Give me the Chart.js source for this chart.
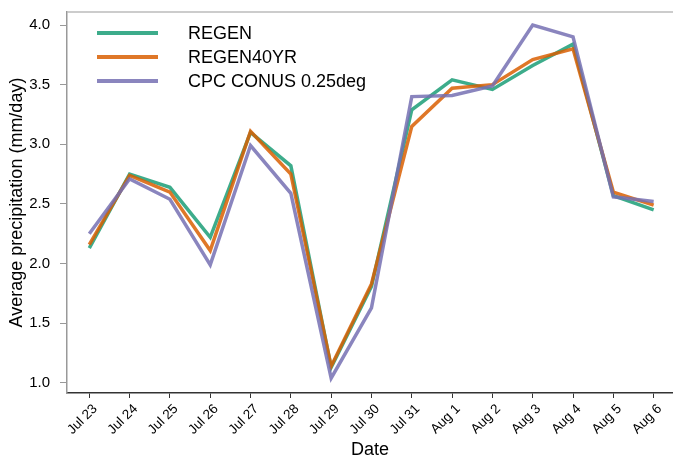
<!DOCTYPE html>
<html lang="en">
<head>
    <meta charset="UTF-8">
    <title>Average precipitation</title>
    <script src="https://cdn.jsdelivr.net/npm/chart.js"></script>
    <style>
        body { margin: 0; background: #fff; }
    </style>
</head>
<body>
    <div style="width: 673px; height: 457px;">
        <canvas id="grafico" width="673" height="457"></canvas>
    </div>

    <script>
        // dates on the x axis (index 0..14)
        const datas = ["Jul 23","Jul 24","Jul 25","Jul 26","Jul 27","Jul 28","Jul 29","Jul 30","Jul 31","Aug 1","Aug 2","Aug 3","Aug 4","Aug 5","Aug 6"]

        const regen     = [2.13, 2.75, 2.64, 2.22, 3.10, 2.82, 1.13, 1.81, 3.29, 3.54, 3.46, 3.66, 3.84, 2.57, 2.45]
        const regen40yr = [2.16, 2.74, 2.60, 2.11, 3.11, 2.75, 1.14, 1.83, 3.15, 3.47, 3.50, 3.71, 3.80, 2.60, 2.49]
        const cpc       = [2.25, 2.71, 2.54, 1.99, 2.99, 2.59, 1.04, 1.63, 3.40, 3.41, 3.49, 4.00, 3.90, 2.56, 2.52]

        const yTicks = [1.0, 1.5, 2.0, 2.5, 3.0, 3.5, 4.0]

        const pontos = arr => arr.map((v, i) => ({x: i, y: v}))

        const serie = (label, dados, cor, ordem) => ({
            label: label,
            data: pontos(dados),
            borderColor: cor,
            backgroundColor: cor,
            borderWidth: 3.5,
            pointRadius: 0,
            tension: 0,
            fill: false,
            borderJoinStyle: 'miter',
            order: ordem
        })

        const fonte = '"Liberation Sans", Arial, sans-serif'

        // legend drawn inside the plot, top left
        const legendaInterna = {
            id: 'legendaInterna',
            afterDraw(chart) {
                const c = chart.ctx
                c.save()
                c.font = '18px ' + fonte
                c.textBaseline = 'middle'
                c.fillStyle = '#000'
                chart.data.datasets.forEach((ds, i) => {
                    const y = 33 + i * 24
                    c.strokeStyle = ds.borderColor
                    c.lineWidth = 4
                    c.beginPath()
                    c.moveTo(97, y)
                    c.lineTo(158, y)
                    c.stroke()
                    c.fillText(ds.label, 188, y + 1)
                })
                c.restore()
            }
        }

        // light border on top of the plot area
        const bordaTopo = {
            id: 'bordaTopo',
            afterDraw(chart) {
                const a = chart.chartArea
                const c = chart.ctx
                c.save()
                c.strokeStyle = '#bbbbbb'
                c.lineWidth = 1.5
                c.beginPath()
                c.moveTo(a.left, a.top)
                c.lineTo(a.right, a.top)
                c.stroke()
                c.restore()
            }
        }

        const grafico = new Chart(document.getElementById('grafico'), {
            type: 'line',
            data: {
                datasets: [
                    serie('REGEN', regen, 'rgba(27,158,119,0.85)', 3),
                    serie('REGEN40YR', regen40yr, 'rgba(217,95,2,0.85)', 2),
                    serie('CPC CONUS 0.25deg', cpc, 'rgba(117,112,179,0.85)', 1)
                ]
            },
            options: {
                responsive: false,
                animation: false,
                layout: { padding: { top: 12, right: 0, left: 0, bottom: 0 } },
                plugins: {
                    legend: { display: false },
                    tooltip: { enabled: false }
                },
                scales: {
                    x: {
                        type: 'linear',
                        min: -0.553,
                        max: 14.48,
                        afterBuildTicks: s => { s.ticks = datas.map((d, i) => ({value: i})) },
                        afterFit: s => { s.height = 64 },
                        ticks: {
                            autoSkip: false,
                            minRotation: 45,
                            maxRotation: 45,
                            padding: 3,
                            labelOffset: 6,
                            color: '#000',
                            font: { family: fonte, size: 13.5 },
                            callback: v => datas[v]
                        },
                        grid: { drawOnChartArea: false, drawTicks: true, tickLength: 5, color: '#333' },
                        border: { display: true, color: '#333', width: 1.5 },
                        title: {
                            display: true,
                            text: 'Date',
                            color: '#000',
                            font: { family: fonte, size: 18, lineHeight: 0.75 },
                            padding: { top: 0, bottom: 0 }
                        }
                    },
                    y: {
                        min: 0.916,
                        max: 4.109,
                        afterBuildTicks: s => { s.ticks = yTicks.map(v => ({value: v})) },
                        afterFit: s => {
                            s.width = 67
                            s.paddingTop = 0
                            s.paddingBottom = 0
                        },
                        ticks: {
                            padding: 10,
                            color: '#000',
                            font: { family: fonte, size: 15 },
                            callback: v => v.toFixed(1)
                        },
                        grid: { drawOnChartArea: false, drawTicks: true, tickLength: 7, color: '#999' },
                        border: { display: true, color: '#999', width: 1.5 },
                        title: {
                            display: true,
                            text: 'Average precipitation (mm/day)',
                            color: '#000',
                            font: { family: fonte, size: 18, lineHeight: 1 },
                            padding: { top: 8, bottom: 0 }
                        }
                    }
                }
            },
            plugins: [legendaInterna, bordaTopo]
        })
    </script>
</body>
</html>
